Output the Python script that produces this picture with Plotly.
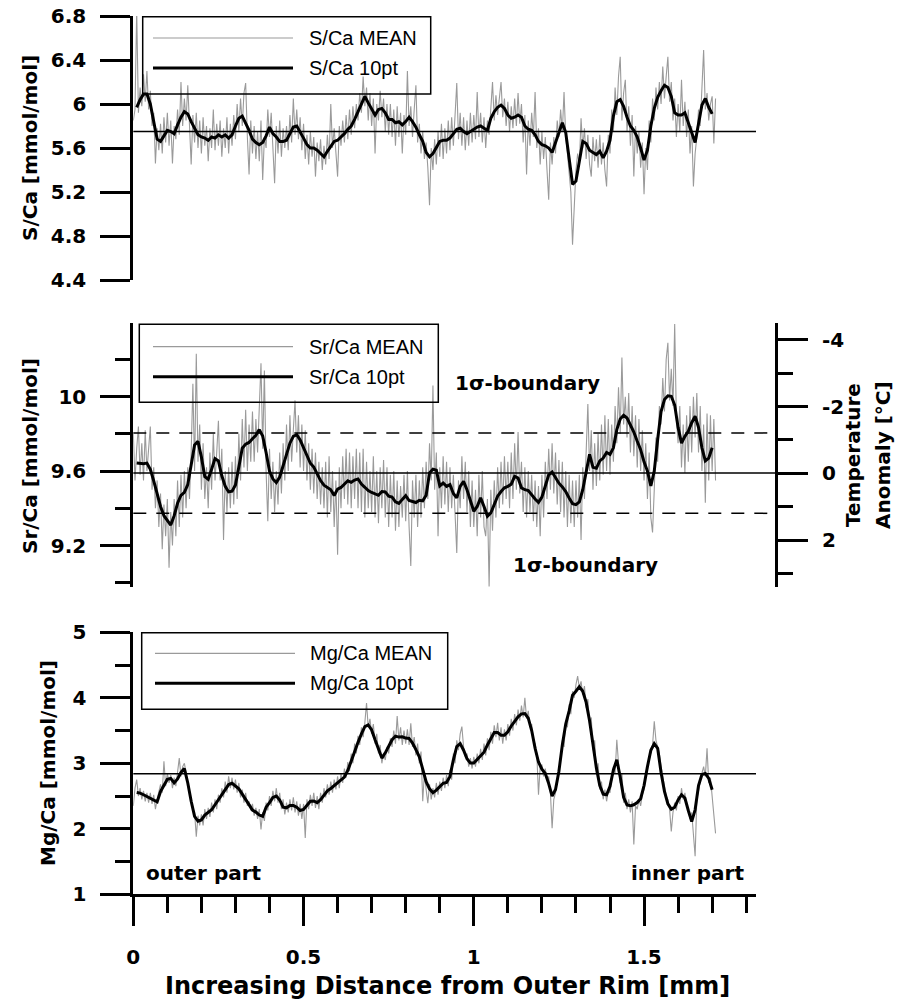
import numpy as np
import plotly.graph_objects as go

W, H = 902, 1003

# ---------------- data ----------------
MEAN_STEP = 0.005   # mm, spacing of the raw "MEAN" samples
TEN_START = 0.01    # mm, first point of the 10pt running mean
TEN_STEP = 0.01

S_MEAN = [
 5.85, 5.95, 6.85, 5.92, 6.15, 5.98, 6.27, 6.02, 6.30, 5.95,
 6.12, 5.80, 5.92, 5.46, 5.78, 5.58, 5.82, 5.55, 5.88, 5.65,
 5.92, 5.62, 5.85, 5.46, 5.80, 5.68, 5.95, 5.72, 6.20, 5.80,
 6.05, 5.85, 6.17, 5.75, 5.45, 5.90, 5.65, 5.92, 5.60, 5.85,
 5.55, 5.88, 5.62, 5.80, 5.48, 5.78, 5.60, 5.95, 5.58, 5.82,
 5.62, 5.85, 5.52, 5.78, 5.60, 5.88, 5.55, 5.82, 5.62, 5.90,
 5.68, 6.00, 5.75, 6.05, 5.80, 6.10, 6.19, 5.70, 5.36, 5.85,
 5.55, 5.80, 5.50, 5.75, 5.48, 5.85, 5.31, 5.70, 5.60, 5.95,
 5.70, 5.92, 5.60, 5.28, 5.80, 5.55, 5.85, 5.52, 5.78, 5.60,
 5.80, 5.58, 5.90, 5.65, 6.05, 5.72, 5.95, 5.68, 5.88, 5.58,
 5.82, 5.50, 5.72, 5.45, 5.75, 5.52, 5.70, 5.34, 5.65, 5.48,
 5.68, 5.40, 5.62, 5.45, 5.72, 5.50, 6.00, 5.60, 5.78, 5.50,
 5.34, 5.80, 5.62, 5.85, 5.65, 5.90, 5.68, 5.95, 5.72, 5.98,
 5.78, 6.00, 5.85, 6.10, 5.92, 6.25, 5.98, 6.15, 5.85, 6.10,
 5.80, 6.05, 5.55, 6.00, 5.85, 6.12, 5.88, 6.05, 5.75, 6.00,
 5.72, 6.00, 5.70, 5.95, 5.62, 5.98, 5.70, 5.92, 5.55, 5.90,
 5.72, 6.30, 5.80, 5.98, 5.70, 5.95, 6.17, 5.65, 5.82, 5.55,
 5.75, 5.50, 5.65, 5.42, 5.08, 5.60, 5.40, 5.68, 5.45, 5.75,
 5.52, 5.82, 5.50, 5.78, 5.55, 5.85, 5.58, 5.88, 5.62, 5.90,
 6.19, 5.68, 5.92, 5.62, 5.88, 5.58, 5.85, 5.62, 5.92, 5.65,
 5.90, 5.68, 6.11, 5.70, 5.92, 5.65, 5.88, 5.60, 5.85, 5.72,
 6.00, 6.20, 5.85, 6.08, 5.90, 6.05, 6.20, 5.88, 6.05, 5.80,
 6.02, 5.75, 5.98, 5.78, 6.05, 5.80, 6.10, 5.82, 6.00, 5.65,
 5.90, 5.36, 5.85, 5.62, 5.92, 5.70, 6.11, 5.60, 5.78, 5.45,
 5.75, 5.50, 5.70, 5.40, 5.13, 5.65, 5.45, 5.70, 5.55, 5.85,
 5.70, 5.95, 5.75, 6.11, 5.70, 5.55, 5.40, 5.20, 4.72, 5.15,
 5.40, 5.55, 5.45, 5.87, 5.60, 5.78, 5.50, 5.72, 5.45, 5.34,
 5.70, 5.48, 5.68, 5.42, 5.72, 5.45, 5.65, 5.40, 5.25, 5.72,
 5.55, 5.95, 5.75, 6.15, 5.90, 6.25, 6.43, 5.85, 6.10, 6.22,
 5.75, 5.98, 5.62, 5.90, 5.34, 5.80, 5.55, 5.75, 5.42, 5.65,
 5.18, 5.60, 5.40, 5.85, 5.65, 6.05, 5.85, 6.15, 5.95, 6.20,
 6.00, 6.34, 6.05, 6.25, 6.43, 6.02, 6.20, 5.85, 6.05, 5.70,
 6.00, 5.75, 6.22, 5.80, 6.02, 5.70, 5.95, 5.55, 5.80, 5.25,
 5.55, 5.70, 5.95, 5.80, 6.15, 6.49, 5.95, 6.10, 5.85, 6.00,
 6.07, 5.64, 6.05,
]

S_10 = [
 5.97, 6.04, 6.09, 6.09, 6.00, 5.82, 5.68, 5.66, 5.71, 5.76,
 5.75, 5.73, 5.81, 5.88, 5.93, 5.91, 5.84, 5.78, 5.72, 5.70,
 5.69, 5.67, 5.70, 5.69, 5.72, 5.70, 5.72, 5.69, 5.72, 5.80,
 5.87, 5.89, 5.83, 5.76, 5.68, 5.65, 5.63, 5.65, 5.71, 5.79,
 5.73, 5.70, 5.66, 5.66, 5.67, 5.73, 5.79, 5.80, 5.75, 5.69,
 5.63, 5.60, 5.60, 5.58, 5.55, 5.52, 5.57, 5.62, 5.66, 5.67,
 5.70, 5.73, 5.77, 5.80, 5.86, 5.93, 6.01, 6.07, 6.01, 5.96,
 5.90, 5.95, 5.96, 5.92, 5.86, 5.86, 5.83, 5.84, 5.81, 5.84,
 5.88, 5.84, 5.79, 5.72, 5.66, 5.56, 5.52, 5.55, 5.60, 5.66,
 5.67, 5.67, 5.69, 5.73, 5.77, 5.78, 5.75, 5.73, 5.75, 5.77,
 5.79, 5.80, 5.78, 5.76, 5.87, 5.93, 5.97, 5.99, 5.96, 5.90,
 5.87, 5.88, 5.90, 5.88, 5.80, 5.77, 5.76, 5.72, 5.66, 5.63,
 5.62, 5.60, 5.56, 5.65, 5.76, 5.83, 5.74, 5.50, 5.27, 5.30,
 5.50, 5.66, 5.64, 5.58, 5.56, 5.54, 5.57, 5.51, 5.57, 5.67,
 5.89, 6.02, 6.04, 5.98, 5.88, 5.80, 5.76, 5.70, 5.60, 5.49,
 5.58, 5.80, 5.96, 6.06, 6.12, 6.17, 6.15, 6.07, 5.92, 5.90,
 5.90, 5.92, 5.83, 5.73, 5.65, 5.82, 5.99, 6.05, 5.97, 5.91,
]

SR_MEAN = [
 9.80, 9.55, 9.72, 9.84, 9.58, 9.75, 9.55, 9.82, 9.60, 9.72,
 9.84, 9.50, 9.62, 9.40, 9.55, 9.30, 9.48, 9.18, 9.42, 9.25,
 9.45, 9.08, 9.38, 9.20, 9.45, 9.25, 9.55, 9.30, 9.58, 9.35,
 9.60, 9.40, 9.62, 9.45, 9.70, 10.07, 9.60, 10.23, 9.65, 9.85,
 9.50, 9.75, 9.45, 9.62, 9.40, 9.70, 9.50, 9.80, 9.55, 9.70,
 9.87, 9.55, 9.72, 9.23, 9.60, 9.38, 9.62, 9.40, 9.65, 9.42,
 9.68, 9.45, 9.80, 9.55, 9.88, 9.62, 9.93, 9.60, 9.85, 9.65,
 9.92, 9.65, 9.88, 9.70, 9.98, 10.18, 9.72, 10.14, 9.60, 9.33,
 9.72, 9.45, 9.65, 9.38, 9.60, 9.42, 9.70, 9.48, 9.75, 9.55,
 9.85, 9.60, 9.90, 9.65, 9.82, 9.98, 9.70, 9.90, 9.62, 9.85,
 9.60, 9.82, 9.55, 9.75, 9.50, 9.72, 9.48, 9.70, 9.45, 9.65,
 9.42, 9.62, 9.40, 9.65, 9.35, 9.68, 9.38, 9.60, 9.30, 9.55,
 9.15, 9.62, 9.40, 9.68, 9.45, 9.72, 9.42, 9.70, 9.40, 9.68,
 9.45, 9.72, 9.40, 9.70, 9.38, 9.72, 9.35, 9.65, 9.40, 9.60,
 9.38, 9.68, 9.35, 9.60, 9.32, 9.62, 9.40, 9.66, 9.35, 9.62,
 9.30, 9.58, 9.35, 9.60, 9.28, 9.55, 9.30, 9.52, 9.35, 9.58,
 9.33, 9.60, 9.30, 9.09, 9.55, 9.35, 9.58, 9.30, 9.55, 9.35,
 9.62, 9.40, 9.65, 9.45, 9.75, 9.55, 10.06, 9.50, 9.70, 9.25,
 9.62, 9.40, 9.68, 9.42, 9.65, 9.38, 9.62, 9.40, 9.58, 9.35,
 9.16, 9.55, 9.40, 9.68, 9.45, 9.65, 9.38, 9.60, 9.30, 9.55,
 9.30, 9.50, 9.25, 9.58, 9.35, 9.60, 9.30, 9.25, 9.45, 8.98,
 9.50, 9.28, 9.55, 9.35, 9.62, 9.40, 9.65, 9.42, 9.68, 9.45,
 9.65, 9.40, 9.70, 9.45, 9.75, 9.50, 9.81, 9.48, 9.65, 9.38,
 9.62, 9.35, 9.60, 9.38, 9.58, 9.33, 9.55, 9.30, 9.52, 9.25,
 9.58, 9.35, 9.65, 9.45, 9.72, 9.50, 9.75, 9.48, 9.70, 9.42,
 9.66, 9.38, 9.65, 9.35, 9.60, 9.30, 9.58, 9.32, 9.55, 9.30,
 9.55, 9.35, 9.58, 9.23, 9.62, 9.45, 9.75, 9.96, 9.60, 9.82,
 9.50, 9.75, 9.52, 9.80, 9.55, 9.85, 9.58, 9.90, 9.60, 9.88,
 9.58, 9.85, 9.65, 9.95, 9.75, 10.05, 9.80, 10.21, 9.85, 10.00,
 9.78, 10.02, 9.70, 9.95, 9.68, 9.90, 9.62, 9.88, 9.60, 9.82,
 9.55, 9.75, 9.45, 9.70, 9.35, 9.27, 9.50, 9.78, 9.65, 9.95,
 9.85, 10.10, 9.92, 10.20, 10.29, 9.98, 10.15, 9.95, 10.39, 9.88,
 9.75, 9.95, 9.62, 9.85, 9.59, 9.90, 9.65, 9.95, 9.70, 10.00,
 9.78, 10.02, 9.70, 9.95, 9.60, 9.85, 9.43, 9.91, 9.55, 9.90,
 9.60, 9.88, 9.55,
]

SR_10 = [
 9.644, 9.64, 9.64, 9.643, 9.61, 9.547, 9.474, 9.41, 9.36, 9.333,
 9.31, 9.36, 9.427, 9.47, 9.486, 9.527, 9.64, 9.74, 9.76, 9.675,
 9.57, 9.556, 9.61, 9.667, 9.655, 9.575, 9.518, 9.488, 9.492, 9.525,
 9.622, 9.723, 9.745, 9.754, 9.774, 9.792, 9.823, 9.788, 9.70, 9.60,
 9.558, 9.538, 9.568, 9.628, 9.70, 9.75, 9.787, 9.796, 9.767, 9.722,
 9.686, 9.642, 9.622, 9.586, 9.549, 9.524, 9.51, 9.50, 9.469, 9.503,
 9.512, 9.53, 9.548, 9.54, 9.552, 9.558, 9.53, 9.513, 9.495, 9.485,
 9.478, 9.47, 9.49, 9.488, 9.465, 9.46, 9.435, 9.426, 9.448, 9.468,
 9.442, 9.436, 9.431, 9.443, 9.44, 9.47, 9.59, 9.61, 9.605, 9.52,
 9.536, 9.518, 9.527, 9.48, 9.456, 9.518, 9.545, 9.50, 9.438, 9.384,
 9.41, 9.456, 9.41, 9.357, 9.375, 9.42, 9.465, 9.49, 9.51, 9.518,
 9.53, 9.572, 9.563, 9.51, 9.50, 9.495, 9.47, 9.45, 9.432, 9.46,
 9.52, 9.58, 9.595, 9.565, 9.535, 9.515, 9.49, 9.455, 9.425, 9.42,
 9.435, 9.50, 9.59, 9.69, 9.62, 9.615, 9.655, 9.67, 9.70, 9.69,
 9.725, 9.823, 9.88, 9.90, 9.885, 9.85, 9.81, 9.76, 9.715, 9.65,
 9.60, 9.52, 9.60, 9.77, 9.92, 9.985, 10.005, 10.002, 9.955, 9.835,
 9.75, 9.787, 9.814, 9.86, 9.895, 9.835, 9.725, 9.655, 9.67, 9.725,
]

MG_MEAN = [
 2.35, 2.62, 2.75, 2.50, 2.62, 2.45, 2.58, 2.42, 2.55, 2.40,
 2.55, 2.38, 2.52, 2.30, 2.45, 2.55, 2.68, 2.55, 3.03, 2.65,
 2.85, 2.70, 2.82, 2.62, 2.78, 2.65, 2.85, 3.08, 2.80, 2.95,
 3.00, 2.85, 2.75, 2.55, 2.45, 2.30, 2.25, 1.88, 2.20, 2.05,
 2.22, 2.05, 2.30, 2.15, 2.32, 2.18, 2.40, 2.25, 2.45, 2.30,
 2.52, 2.40, 2.62, 2.48, 2.72, 2.55, 2.80, 2.62, 2.78, 2.60,
 2.75, 2.55, 2.70, 2.48, 2.60, 2.40, 2.55, 2.35, 2.42, 2.28,
 2.38, 2.20, 2.32, 2.15, 2.30, 1.99, 2.25, 2.12, 2.40, 2.28,
 2.50, 2.35, 2.58, 2.42, 2.62, 2.40, 2.55, 2.30, 2.45, 2.22,
 2.40, 2.25, 2.45, 2.28, 2.48, 2.25, 2.42, 2.20, 2.38, 2.15,
 2.38, 1.86, 2.45, 2.30, 2.52, 2.35, 2.55, 2.32, 2.50, 2.30,
 2.55, 2.40, 2.62, 2.48, 2.68, 2.52, 2.72, 2.55, 2.75, 2.60,
 2.80, 2.62, 2.85, 2.70, 2.92, 2.78, 3.02, 2.88, 3.15, 3.00,
 3.30, 3.15, 3.42, 3.28, 3.55, 3.40, 3.62, 3.92, 3.55, 3.68,
 3.45, 3.60, 3.30, 3.45, 3.15, 3.28, 3.00, 3.15, 3.05, 3.25,
 3.15, 3.38, 3.25, 3.50, 3.30, 3.72, 3.35, 3.55, 3.28, 3.50,
 3.30, 3.52, 3.28, 3.61, 3.25, 3.40, 3.12, 3.30, 3.00, 3.18,
 2.42, 2.85, 2.60, 2.39, 2.68, 2.45, 2.62, 2.48, 2.70, 2.52,
 2.72, 2.58, 2.78, 2.62, 2.82, 2.65, 2.90, 2.75, 3.15, 3.00,
 3.35, 3.20, 3.45, 3.56, 3.25, 3.10, 3.15, 2.95, 3.08, 2.92,
 3.10, 2.95, 3.15, 3.00, 3.22, 3.05, 3.30, 3.12, 3.38, 3.20,
 3.48, 3.30, 3.58, 3.40, 3.62, 3.35, 3.55, 3.30, 3.52, 3.35,
 3.60, 3.42, 3.68, 3.50, 3.75, 3.58, 3.82, 3.65, 3.88, 3.70,
 4.00, 3.68, 3.80, 3.55, 3.60, 3.35, 3.30, 3.15, 2.52, 2.95,
 2.98, 2.80, 2.92, 2.75, 2.80, 2.55, 2.01, 2.45, 2.55, 2.72,
 2.95, 3.05, 3.35, 3.25, 3.65, 3.55, 3.90, 3.75, 4.10, 4.00,
 4.20, 4.33, 4.15, 4.25, 4.05, 4.18, 3.85, 3.98, 3.60, 3.70,
 3.20, 3.35, 2.85, 3.00, 2.60, 2.72, 2.45, 2.60, 2.42, 2.58,
 2.55, 2.75, 2.95, 2.85, 3.36, 3.00, 2.70, 2.85, 2.40, 2.55,
 2.30, 2.45, 2.25, 2.42, 1.76, 2.35, 2.30, 2.45, 2.35, 2.52,
 2.60, 2.80, 2.90, 3.05, 3.15, 3.28, 3.64, 3.35, 3.25, 3.15,
 2.95, 2.78, 2.65, 2.50, 2.45, 2.30, 1.96, 2.25, 2.40, 2.28,
 2.50, 2.38, 2.62, 2.45, 2.55, 2.35, 2.30, 2.15, 2.25, 1.95,
 1.58, 2.45, 2.60, 2.75, 2.85, 2.95, 2.80, 3.23, 2.70, 2.78,
 2.45, 2.20, 1.93,
]

MG_10 = [
 2.555, 2.545, 2.52, 2.494, 2.467, 2.44, 2.41, 2.57, 2.66, 2.755,
 2.77, 2.70, 2.76, 2.86, 2.92, 2.70, 2.42, 2.19, 2.115, 2.135,
 2.21, 2.25, 2.29, 2.367, 2.443, 2.525, 2.61, 2.675, 2.695, 2.645,
 2.61, 2.53, 2.45, 2.35, 2.285, 2.255, 2.21, 2.19, 2.33, 2.40,
 2.48, 2.50, 2.44, 2.33, 2.32, 2.355, 2.355, 2.33, 2.28, 2.295,
 2.36, 2.42, 2.425, 2.40, 2.445, 2.52, 2.58, 2.615, 2.66, 2.69,
 2.74, 2.79, 2.89, 3.04, 3.19, 3.32, 3.45, 3.56, 3.585, 3.51,
 3.36, 3.21, 3.08, 3.16, 3.26, 3.36, 3.415, 3.40, 3.405, 3.385,
 3.38, 3.31, 3.21, 3.10, 2.91, 2.72, 2.61, 2.55, 2.59, 2.64,
 2.695, 2.708, 2.80, 3.054, 3.257, 3.30, 3.20, 3.07, 3.003, 3.003,
 3.06, 3.11, 3.17, 3.28, 3.38, 3.47, 3.47, 3.43, 3.43, 3.48,
 3.57, 3.645, 3.71, 3.755, 3.76, 3.69, 3.50, 3.23, 3.02, 2.91,
 2.845, 2.69, 2.50, 2.60, 2.88, 3.28, 3.60, 3.80, 4.04, 4.10,
 4.17, 4.10, 3.93, 3.65, 3.29, 2.93, 2.66, 2.53, 2.52, 2.647,
 2.90, 3.054, 2.79, 2.48, 2.365, 2.351, 2.367, 2.40, 2.46, 2.66,
 2.95, 3.20, 3.30, 3.23, 2.86, 2.57, 2.38, 2.30, 2.33, 2.44,
 2.52, 2.47, 2.28, 2.112, 2.29, 2.66, 2.83, 2.845, 2.77, 2.596,
]

S_LEVEL = 5.75        # mean S/Ca
SR_LEVEL = 9.59       # mean Sr/Ca (0 °C anomaly)
SR_SIGMA = (9.373, 9.805)
MG_LEVEL = 2.84       # mean Mg/Ca

S_TICKS = [4.4, 4.8, 5.2, 5.6, 6.0, 6.4, 6.8]
S_TICKTEXT = ["4.4", "4.8", "5.2", "5.6", "6", "6.4", "6.8"]
SR_TICKS = [9.2, 9.6, 10.0]
SR_TICKTEXT = ["9.2", "9.6", "10"]
SR_MINOR = [9.0, 9.4, 9.8, 10.2]
T_TICKS = [-4, -2, 0, 2]
T_TICKTEXT = ["-4", "-2", "0", "2"]
T_MINOR = [-3, -1, 1, 3]
MG_TICKS = [1, 2, 3, 4, 5]
MG_TICKTEXT = ["1", "2", "3", "4", "5"]
MG_MINOR = [1.5, 2.5, 3.5, 4.5]
X_TICKS = [0, 0.5, 1.0, 1.5]
X_TICKTEXT = ["0", "0.5", "1", "1.5"]
X_MINOR = [0.1, 0.2, 0.3, 0.4, 0.6, 0.7, 0.8, 0.9, 1.1, 1.2, 1.3, 1.4, 1.6, 1.7, 1.8]

LEGEND_LABELS = [("S/Ca MEAN", "S/Ca 10pt"), ("Sr/Ca MEAN", "Sr/Ca 10pt"), ("Mg/Ca MEAN", "Mg/Ca 10pt")]

# ---------------- helpers ----------------
def fx(p):
    return p / W

def fy(p):
    return 1 - p / H

mean_x = lambda arr: np.arange(len(arr)) * MEAN_STEP
ten_x = lambda arr: TEN_START + np.arange(len(arr)) * TEN_STEP

GRAY = "#9a9a9a"
BOLD = dict(family="DejaVu Sans", size=20, color="black", weight="bold")
REG = dict(family="Liberation Sans, Arial, sans-serif", size=20, color="black")

X_RANGE = [0, 1.8288]
X2_RANGE = [0, 1.8846]

fig = go.Figure()

def add_pair(xa, ya, mean_vals, ten_vals, name):
    fig.add_trace(go.Scatter(x=mean_x(mean_vals), y=mean_vals, mode="lines",
                             line=dict(color=GRAY, width=1.1), xaxis=xa, yaxis=ya,
                             name=name + " MEAN", showlegend=False, hoverinfo="skip"))
    fig.add_trace(go.Scatter(x=ten_x(ten_vals), y=ten_vals, mode="lines",
                             line=dict(color="black", width=3), xaxis=xa, yaxis=ya,
                             name=name + " 10pt", showlegend=False, hoverinfo="skip"))

add_pair("x", "y", S_MEAN, S_10, "S/Ca")
add_pair("x2", "y2", SR_MEAN, SR_10, "Sr/Ca")
add_pair("x3", "y4", MG_MEAN, MG_10, "Mg/Ca")
fig.add_trace(go.Scatter(x=[None], y=[None], xaxis="x2", yaxis="y3", showlegend=False, hoverinfo="skip"))

ycommon = dict(showgrid=False, zeroline=False, showline=True, linecolor="black", linewidth=3,
               ticks="outside", ticklen=30, tickwidth=3, tickcolor="black", automargin=False,
               tickfont=BOLD, tickmode="array", ticklabelstandoff=10)

fig.update_layout(
    width=W, height=H, margin=dict(l=0, r=0, t=0, b=0, autoexpand=False),
    plot_bgcolor="white", paper_bgcolor="white", showlegend=False,
    xaxis=dict(domain=[fx(133.3), fx(756)], range=X_RANGE, visible=False, anchor="y", automargin=False),
    xaxis2=dict(domain=[fx(133.3), fx(775)], range=X2_RANGE, visible=False, anchor="y2", automargin=False),
    xaxis3=dict(domain=[fx(133.3), fx(756)], range=X_RANGE, anchor="y4", automargin=False,
                showgrid=False, zeroline=False, showline=True, linecolor="black", linewidth=3,
                ticks="outside", ticklen=29, tickwidth=3, tickcolor="black", tickfont=BOLD,
                tickmode="array", tickvals=X_TICKS, ticktext=X_TICKTEXT, ticklabelstandoff=14,
                minor=dict(tickmode="array", tickvals=X_MINOR, ticks="outside", ticklen=16,
                           tickwidth=3, tickcolor="black", showgrid=False)),
    yaxis=dict(domain=[fy(280), fy(16)], range=[4.4, 6.8], anchor="x",
               tickvals=S_TICKS, ticktext=S_TICKTEXT, **ycommon),
    yaxis2=dict(domain=[fy(587), fy(323)], range=[8.977, 10.396], anchor="x2",
                tickvals=SR_TICKS, ticktext=SR_TICKTEXT,
                minor=dict(tickmode="array", tickvals=SR_MINOR, ticks="outside", ticklen=15,
                           tickwidth=3, tickcolor="black", showgrid=False), **ycommon),
    yaxis3=dict(domain=[fy(587), fy(323)], range=[3.40, -4.50], anchor="x2", overlaying="y2",
                side="right", tickvals=T_TICKS, ticktext=T_TICKTEXT,
                minor=dict(tickmode="array", tickvals=T_MINOR, ticks="outside", ticklen=15,
                           tickwidth=3, tickcolor="black", showgrid=False), **ycommon),
    yaxis4=dict(domain=[fy(894.3), fy(632.3)], range=[1, 5], anchor="x3",
                tickvals=MG_TICKS, ticktext=MG_TICKTEXT,
                minor=dict(tickmode="array", tickvals=MG_MINOR, ticks="outside", ticklen=15,
                           tickwidth=3, tickcolor="black", showgrid=False), **ycommon),
)

shapes = [
    dict(type="line", xref="x domain", yref="y", x0=0, x1=1, y0=S_LEVEL, y1=S_LEVEL,
         line=dict(color="black", width=1.5)),
    dict(type="line", xref="x2 domain", yref="y2", x0=0, x1=1, y0=SR_LEVEL, y1=SR_LEVEL,
         line=dict(color="black", width=1.5)),
    dict(type="line", xref="x3 domain", yref="y4", x0=0, x1=1, y0=MG_LEVEL, y1=MG_LEVEL,
         line=dict(color="black", width=1.5)),
]
for lvl in SR_SIGMA:
    shapes.append(dict(type="line", xref="x2 domain", yref="y2", x0=0, x1=1, y0=lvl, y1=lvl,
                       line=dict(color="black", width=1.5, dash="13px,10px")))

# legend boxes (drawn by hand to keep the long line samples)
LEG_GEOM = [
    dict(box=(142.7, 16.7, 430.7, 94.0), ys=(38.0, 68.0), lx=(153, 293), tx=307),
    dict(box=(139.3, 324.3, 438.3, 402.3), ys=(346.7, 376.7), lx=(153, 293), tx=307),
    dict(box=(141.7, 632.7, 447.7, 709.3), ys=(653.3, 683.3), lx=(155, 295), tx=308),
]
annotations = []
for g, labels in zip(LEG_GEOM, LEGEND_LABELS):
    x0, y0, x1, y1 = g["box"]
    shapes.append(dict(type="rect", xref="paper", yref="paper", x0=fx(x0), x1=fx(x1),
                       y0=fy(y1), y1=fy(y0), line=dict(color="black", width=1.5),
                       fillcolor="rgba(0,0,0,0)"))
    for yy, (col, wd) in zip(g["ys"], [(GRAY, 1.2), ("black", 3)]):
        shapes.append(dict(type="line", xref="paper", yref="paper", x0=fx(g["lx"][0]),
                           x1=fx(g["lx"][1]), y0=fy(yy), y1=fy(yy), line=dict(color=col, width=wd)))
    for yy, lab in zip(g["ys"], labels):
        annotations.append(dict(text=lab, xref="paper", yref="paper", x=fx(g["tx"]), y=fy(yy),
                                xanchor="left", yanchor="middle", showarrow=False, font=REG))

def ann(text, x, y, font=BOLD, angle=0):
    annotations.append(dict(text=text, xref="paper", yref="paper", x=fx(x), y=fy(y),
                            xanchor="center", yanchor="middle", showarrow=False,
                            font=font, textangle=angle))

ann("S/Ca [mmol/mol]", 30, 148, angle=-90)
ann("Sr/Ca [mmol/mol]", 30, 456, angle=-90)
ann("Mg/Ca [mmol/mol]", 48, 763, angle=-90)
ann("Temperature", 853, 455, angle=-90)
ann("Anomaly [°C]", 883, 455, angle=-90)
ann("1σ-boundary", 527.5, 383, font=BOLD)
ann("1σ-boundary", 585, 565, font=BOLD)
ann("outer part", 204, 873, font=BOLD)
ann("inner part", 687, 873, font=BOLD)
ann("Increasing Distance from Outer Rim [mm]", 447, 986,
    font=dict(family="DejaVu Sans", size=24, color="black", weight="bold"))

fig.update_layout(shapes=shapes, annotations=annotations)

fig.write_html("out.html", config={"displayModeBar": False})
